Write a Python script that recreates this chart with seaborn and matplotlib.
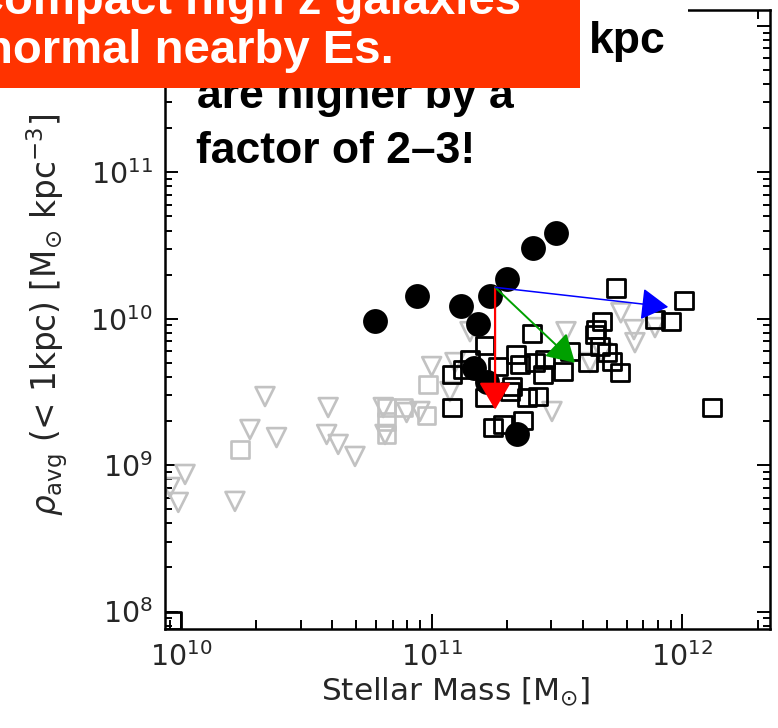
import numpy as np
import matplotlib
matplotlib.use("Agg")
import matplotlib.pyplot as plt
from matplotlib.patches import Rectangle
from matplotlib.ticker import LogLocator, NullFormatter
import seaborn as sns

# ---- data: log10 stellar mass [Msun], log10 mean density inside 1 kpc [Msun kpc^-3]
# compact high-z galaxies (filled circles)
compact_logm = [10.774, 10.940, 11.116, 11.186, 11.233, 11.302, 11.403, 11.496,
                11.339, 11.169, 11.221]
compact_logrho = [9.982, 10.152, 10.084, 9.966, 10.152, 10.271, 10.482, 10.585,
                  9.209, 9.666, 9.570]

# massive nearby ellipticals (open black squares)
nearby_logm = [11.735, 12.007, 11.955, 11.891, 11.680, 11.400, 11.213, 11.652,
               11.672, 11.336, 11.552, 11.624, 11.719, 11.751, 11.081, 11.125,
               11.265, 11.352, 11.412, 11.444, 11.524, 11.320, 11.213, 11.081,
               11.380, 11.424, 11.245, 11.285, 11.364, 12.119, 11.452, 11.312,
               11.656, 11.700, 11.153, 9.964]
nearby_logrho = [10.211, 10.123, 9.980, 9.993, 9.980, 9.898, 9.816, 9.891,
                 9.809, 9.754, 9.775, 9.700, 9.707, 9.632, 9.618, 9.652,
                 9.673, 9.686, 9.700, 9.618, 9.638, 9.536, 9.461, 9.393,
                 9.461, 9.468, 9.256, 9.277, 9.304, 9.393, 9.720, 9.502,
                 9.925, 9.768, 9.720, 7.940]

# lower-mass nearby comparison sample (open grey squares)
lowm_sq_logm = [10.986, 10.235, 10.820, 10.887, 10.980, 10.820, 10.820]
lowm_sq_logrho = [9.550, 9.106, 9.393, 9.393, 9.338, 9.297, 9.209]

# second nearby comparison sample (open grey triangles)
tri_logm = [10.335, 10.275, 10.381, 10.587, 10.581, 10.627, 10.694, 10.807,
            10.900, 10.953, 10.814, 11.000, 11.093, 11.073, 10.016, 9.989,
            9.956, 10.215, 11.153, 11.536, 11.755, 11.807, 11.811, 11.891,
            11.480, 11.632, 11.680]
tri_logrho = [9.468, 9.243, 9.188, 9.393, 9.209, 9.141, 9.059, 9.393,
              9.359, 9.366, 9.209, 9.673, 9.700, 9.502, 8.936, 8.745,
              8.847, 8.752, 9.911, 9.911, 10.040, 9.925, 9.836, 9.939,
              9.366, 9.700, 9.768]

# evolution vectors starting from a compact galaxy
vec_start_logm, vec_start_logrho = 11.253, 10.214
vec_end_logm = [11.253, 11.572, 11.944]
vec_end_logrho = [9.379, 9.698, 10.080]
vec_colors = ["#ff0000", "#00a000", "#0000ff"]
vec_widths = [1.6, 1.4, 1.1]

xlim = (10 ** 9.936, 10 ** 12.35)
ylim = (10 ** 7.884, 10 ** 12.108)

# ---- figure
sns.set_style("ticks")
plt.rcParams["font.family"] = ["DejaVu Sans"]
plt.rcParams["mathtext.fontset"] = "dejavusans"

W, H = 778, 728
fig = plt.figure(figsize=(W / 100, H / 100), dpi=100)
ax = fig.add_axes([165 / W, 1 - 628.5 / H, 605 / W, 618.5 / H])
ax.set_xscale("log")
ax.set_yscale("log")

grey = "#c2c2c2"
sns.scatterplot(x=10 ** np.array(tri_logm), y=10 ** np.array(tri_logrho),
                marker="v", s=185, facecolor="none", edgecolor=grey,
                linewidth=1.9, ax=ax, zorder=2)
sns.scatterplot(x=10 ** np.array(lowm_sq_logm), y=10 ** np.array(lowm_sq_logrho),
                marker="s", s=160, facecolor="none", edgecolor=grey,
                linewidth=1.9, ax=ax, zorder=2)
sns.scatterplot(x=10 ** np.array(nearby_logm), y=10 ** np.array(nearby_logrho),
                marker="s", s=160, facecolor="none", edgecolor="black",
                linewidth=2.0, ax=ax, zorder=3)
sns.scatterplot(x=10 ** np.array(compact_logm), y=10 ** np.array(compact_logrho),
                marker="o", s=320, color="black", edgecolor="black",
                linewidth=0, ax=ax, zorder=4)

for lm, lr, c, lw in zip(vec_end_logm, vec_end_logrho, vec_colors, vec_widths):
    ax.annotate("", xy=(10 ** lm, 10 ** lr),
                xytext=(10 ** vec_start_logm, 10 ** vec_start_logrho),
                arrowprops=dict(arrowstyle="-|>,head_length=0.85,head_width=0.5",
                                color=c, lw=lw, shrinkA=0, shrinkB=0,
                                mutation_scale=20),
                zorder=5)

ax.set_xlim(*xlim)
ax.set_ylim(*ylim)

for axis in (ax.xaxis, ax.yaxis):
    axis.set_major_locator(LogLocator(base=10, numticks=20))
    axis.set_minor_locator(LogLocator(base=10, subs=np.arange(2, 10), numticks=100))
    axis.set_minor_formatter(NullFormatter())

ax.tick_params(which="both", direction="in", top=True, right=True,
               width=1.4, color="black", labelsize=20.5, labelcolor="#262626")
ax.tick_params(axis="x", which="major", length=11, pad=10)
ax.tick_params(axis="x", which="minor", length=6.5)
ax.tick_params(axis="y", which="major", length=9.5, pad=9)
ax.tick_params(axis="y", which="minor", length=5)
for sp in ax.spines.values():
    sp.set_linewidth(1.8)
    sp.set_color("black")

ax.set_xlabel(r"Stellar Mass [M$_{\odot}$]", fontsize=22.5, color="#262626")
ax.set_ylabel(r"$\rho_{\rm avg}$ (< 1kpc) [M$_{\odot}$ kpc$^{-3}$]",
              fontsize=23.5, color="#262626")
ax.xaxis.set_label_coords(0.481, -0.075)
ax.yaxis.set_label_coords(-0.157, 0.507)

# ---- slide call-outs over the plot
bold = dict(family=["Liberation Sans", "DejaVu Sans"], weight="bold")
fig.add_artist(Rectangle((185 / W, 1 - 180 / H), (688 - 185) / W, 180 / H,
                         transform=fig.transFigure, facecolor="white",
                         edgecolor="none", zorder=10))
fig.text(589 / W, 1 - 53 / H, "kpc", fontsize=32, color="black",
         ha="left", va="baseline", zorder=11, **bold)
fig.text(197 / W, 1 - 108 / H, "are higher by a", fontsize=32, color="black",
         ha="left", va="baseline", zorder=11, **bold)
fig.text(196 / W, 1 - 163 / H, "factor of 2\u20133!", fontsize=32, color="black",
         ha="left", va="baseline", zorder=11, **bold)

fig.add_artist(Rectangle((0, 1 - 88 / H), 580 / W, 88 / H,
                         transform=fig.transFigure, facecolor="#ff3300",
                         edgecolor="none", zorder=12))
fig.text(521 / W, 1 - 14 / H, "Compact high z galaxies", fontsize=34,
         color="white", ha="right", va="baseline", zorder=13, **bold)
fig.text(394 / W, 1 - 63 / H, "normal nearby Es.", fontsize=34,
         color="white", ha="right", va="baseline", zorder=13, **bold)

fig.savefig("out.png", dpi=100)
